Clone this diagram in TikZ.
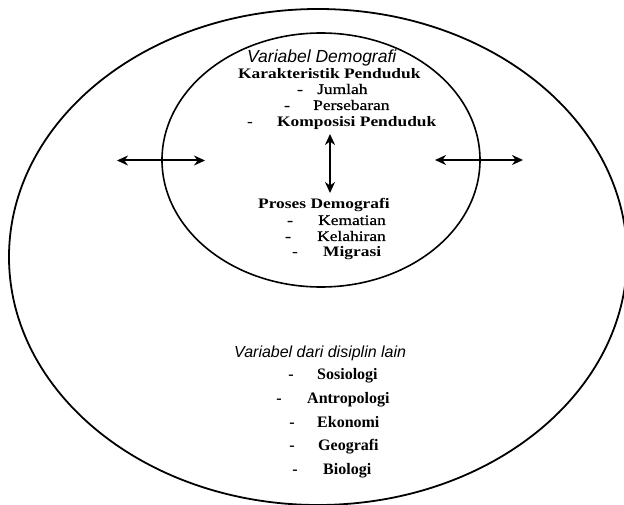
\documentclass[tikz,border=0pt]{standalone}
\usepackage{fontspec}
\setmainfont{Liberation Serif}
\newfontfamily\wideserif[FakeStretch=1.2]{Liberation Serif}
\newfontfamily\widemed[FakeStretch=1.2,FakeBold=0.8]{Liberation Serif}
\newfontfamily\headsans{Liberation Sans}
\usetikzlibrary{arrows.meta}
\tikzset{
  ring/.style={draw, line width=1.8pt},
  link/.style={line width=2pt,
    {Stealth[length=11pt,width=10pt]}-{Stealth[length=11pt,width=10pt]}},
  head/.style={font=\headsans\itshape\fontsize{17.5}{20}\selectfont,
    inner sep=0pt, anchor=base west},
  toplab/.style={font=\widemed\fontsize{14.5}{17}\selectfont,
    inner sep=0pt, anchor=base west},
  topbold/.style={font=\wideserif\bfseries\fontsize{14.5}{17}\selectfont,
    inner sep=0pt, anchor=base west},
  lowlab/.style={font=\bfseries\fontsize{16}{19}\selectfont,
    inner sep=0pt, anchor=base west},
  dashmark/.style={anchor=base}
}
\begin{document}
\begin{tikzpicture}[x=1pt,y=-1pt]
  \useasboundingbox (0,0) rectangle (624,505);
  \fill[white] (0,0) rectangle (624,505);

  % outer field and inner demographic core
  \draw[ring] (318,257) ellipse [x radius=309pt, y radius=248pt];
  \draw[ring, line width=1.6pt] (321,160) ellipse [x radius=159pt, y radius=127pt];

  % demographic variables
  \node[head] (vdem) at (247,63) {Variabel Demografi};
  \node[topbold] (kar) at (238,79) {Karakteristik Penduduk};
  \node[toplab,dashmark] (d1) at (300,94) {-};
  \node[toplab] (jml) at (317,94) {Jumlah};
  \node[toplab,dashmark] (d2) at (287,110) {-};
  \node[toplab] (pers) at (313,110) {Persebaran};
  \node[topbold,dashmark] (d3) at (250,127) {-};
  \node[topbold] (komp) at (277,127) {Komposisi Penduduk};

  \node[topbold] (pros) at (258,209) {Proses Demografi};
  \node[toplab,dashmark] (d4) at (290,225) {-};
  \node[toplab] (kem) at (318,225) {Kematian};
  \node[toplab,dashmark] (d5) at (288,241) {-};
  \node[toplab] (kel) at (317,241) {Kelahiran};
  \node[topbold,dashmark] (d6) at (295,257) {-};
  \node[topbold] (mig) at (323,257) {Migrasi};

  % variables from other disciplines
  \node[head,font=\headsans\itshape\fontsize{16}{19}\selectfont] (vlain) at (234,357) {Variabel dari disiplin lain};
  \node[lowlab,dashmark] (e1) at (291,379) {-};
  \node[lowlab] (sos) at (317,379) {Sosiologi};
  \node[lowlab,dashmark] (e2) at (279,403) {-};
  \node[lowlab] (ant) at (307,403) {Antropologi};
  \node[lowlab,dashmark] (e3) at (292,427) {-};
  \node[lowlab] (eko) at (317,427) {Ekonomi};
  \node[lowlab,dashmark] (e4) at (292,450) {-};
  \node[lowlab] (geo) at (318,450) {Geografi};
  \node[lowlab,dashmark] (e5) at (295,474) {-};
  \node[lowlab] (bio) at (323,474) {Biologi};

  % interaction arrows
  \coordinate (lA) at (117,160.5);
  \coordinate (lB) at (205,160.5);
  \coordinate (rA) at (435,160);
  \coordinate (rB) at (523,160);
  \coordinate (uA) at (330,134);
  \coordinate (uB) at (330,193);
  \draw[link] (lA) -- (lB);
  \draw[link] (rA) -- (rB);
  \draw[link] (uA) -- (uB);
\end{tikzpicture}
\end{document}
